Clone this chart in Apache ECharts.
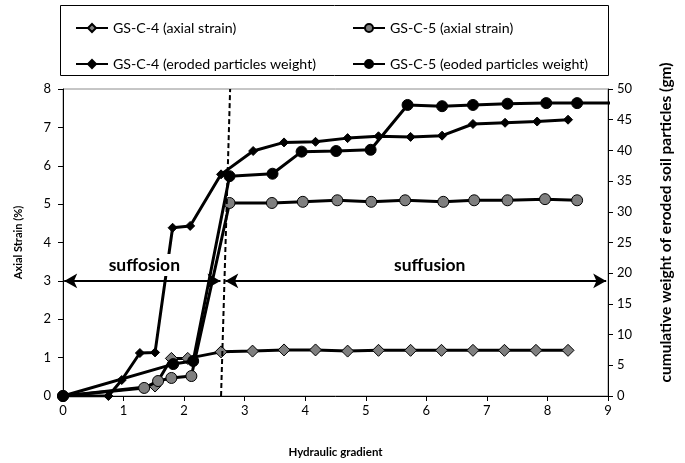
<!DOCTYPE html>
<html>
<head>
<meta charset="utf-8">
<script src="https://cdn.jsdelivr.net/npm/echarts@6/dist/echarts.min.js"></script>
<style>
  html, body { margin: 0; padding: 0; background: #fff; }
  #chart { width: 685px; height: 463px; }
</style>
</head>
<body>
<div id="chart"></div>
<script>
// hydraulic gradient (x) and readings for each test
const gradC4Axial = [0, 1.52, 1.79, 2.06, 2.61, 3.13, 3.65, 4.17, 4.70, 5.21, 5.74, 6.25, 6.77, 7.29, 7.81, 8.34];
const strainC4 = [0, 0.26, 0.98, 0.98, 1.15, 1.17, 1.20, 1.20, 1.17, 1.19, 1.19, 1.19, 1.19, 1.19, 1.19, 1.19];

const gradC5Axial = [0, 1.34, 1.57, 1.79, 2.12, 2.75, 3.45, 3.96, 4.53, 5.09, 5.65, 6.28, 6.79, 7.34, 7.96, 8.49];
const strainC5 = [0, 0.21, 0.39, 0.47, 0.52, 5.03, 5.03, 5.06, 5.10, 5.06, 5.10, 5.06, 5.10, 5.10, 5.13, 5.10];

const gradC4Eroded = [0, 0.75, 0.97, 1.27, 1.52, 1.81, 2.10, 2.61, 3.14, 3.65, 4.17, 4.70, 5.21, 5.74, 6.26, 6.77, 7.30, 7.83, 8.34];
const weightC4 = [0, 0, 2.6, 7.0, 7.1, 27.4, 27.7, 36.1, 39.9, 41.3, 41.4, 42.0, 42.3, 42.2, 42.4, 44.3, 44.5, 44.7, 45.0];

const gradC5Eroded = [0, 1.82, 2.15, 2.75, 3.46, 3.94, 4.51, 5.08, 5.69, 6.26, 6.77, 7.34, 7.98, 8.49, 9.3];
const weightC5 = [0, 5.2, 5.7, 35.8, 36.2, 39.8, 39.9, 40.1, 47.4, 47.2, 47.4, 47.6, 47.7, 47.7, 47.7];

// dashed boundary line (slightly slanted) and zone arrows at strain = 3
const boundaryX = [2.61, 2.76];
const boundaryY = [0, 8];
const arrowY = 3;

const names = [
  'GS-C-4 (axial strain)',
  'GS-C-5 (axial strain)',
  'GS-C-4 (eroded particles weight)',
  'GS-C-5 (eoded particles weight)'
];

const zip = (xs, ys) => xs.map((x, i) => [x, ys[i]]);
const font = 'Lato, "Open Sans", sans-serif';

const chart = echarts.init(document.getElementById('chart'));

const lineBase = {
  type: 'line',
  lineStyle: { color: '#000', width: 3 },
  emphasis: { disabled: true },
  animation: false
};

const legendText = { fontSize: 14.2, color: '#000', fontFamily: font };

chart.setOption({
  animation: false,
  textStyle: { fontFamily: font },
  grid: {
    left: 63, right: 77, top: 89, bottom: 66,
    show: true, borderColor: '#8c8c8c', borderWidth: 1
  },
  graphic: [{
    type: 'rect',
    shape: { x: 60.5, y: 5.5, width: 548, height: 70 },
    style: { fill: 'none', stroke: '#000', lineWidth: 1 },
    silent: true
  }],
  legend: [
    {
      left: 70, top: 16, orient: 'vertical', itemGap: 22,
      itemWidth: 32, itemHeight: 10,
      data: [names[0], names[2]],
      textStyle: legendText
    },
    {
      left: 347, top: 16, orient: 'vertical', itemGap: 22,
      itemWidth: 32, itemHeight: 10,
      data: [names[1], names[3]],
      textStyle: legendText
    }
  ],
  xAxis: {
    type: 'value', min: 0, max: 9, interval: 1,
    name: 'Hydraulic gradient', nameLocation: 'middle', nameGap: 50,
    nameTextStyle: { fontWeight: 'bold', fontSize: 11.5, color: '#000' },
    axisLine: { lineStyle: { color: '#000', width: 1 } },
    axisTick: { show: true, length: 5, lineStyle: { color: '#000' } },
    axisLabel: { color: '#000', fontSize: 13, margin: 8 },
    splitLine: { show: false }
  },
  yAxis: [
    {
      type: 'value', min: 0, max: 8, interval: 1,
      name: 'Axial Strain (%)', nameLocation: 'middle', nameGap: 39, nameRotate: 90,
      nameTextStyle: { fontWeight: 'bold', fontSize: 11, color: '#000' },
      axisLine: { show: true, lineStyle: { color: '#000', width: 1 } },
      axisTick: { show: true, length: 5, lineStyle: { color: '#000' } },
      axisLabel: { color: '#000', fontSize: 13, margin: 12 },
      splitLine: { show: false }
    },
    {
      type: 'value', min: 0, max: 50, interval: 5, position: 'right',
      name: 'cumulative weight of eroded soil particles (gm)', nameLocation: 'middle',
      nameGap: 50, nameRotate: 90,
      nameTextStyle: { fontWeight: 'bold', fontSize: 15.5, color: '#000', padding: [0, 0, 0, 40] },
      axisLine: { show: true, lineStyle: { color: '#000', width: 1 } },
      axisTick: { show: true, length: 5, lineStyle: { color: '#000' } },
      axisLabel: { color: '#000', fontSize: 13, margin: 9 },
      splitLine: { show: false }
    }
  ],
  series: [
    Object.assign({}, lineBase, {
      name: names[0], yAxisIndex: 0,
      data: zip(gradC4Axial, strainC4),
      symbol: 'diamond', symbolSize: 12,
      itemStyle: { color: '#7f7f7f', borderColor: '#000', borderWidth: 1 },
      z: 2
    }),
    Object.assign({}, lineBase, {
      name: names[1], yAxisIndex: 0,
      data: zip(gradC5Axial, strainC5),
      symbol: 'circle', symbolSize: 11,
      itemStyle: { color: '#7f7f7f', borderColor: '#000', borderWidth: 1 },
      z: 3
    }),
    Object.assign({}, lineBase, {
      name: names[2], yAxisIndex: 1,
      data: zip(gradC4Eroded, weightC4),
      symbol: 'diamond', symbolSize: 9,
      itemStyle: { color: '#000', borderColor: '#000', borderWidth: 1 },
      z: 4
    }),
    Object.assign({}, lineBase, {
      name: names[3], yAxisIndex: 1,
      data: zip(gradC5Eroded, weightC5),
      symbol: 'circle', symbolSize: 11,
      itemStyle: { color: '#000', borderColor: '#000', borderWidth: 1 },
      clip: true,
      z: 5
    }),
    {
      type: 'line', name: 'boundary', yAxisIndex: 0,
      data: zip(boundaryX, boundaryY),
      symbol: 'none',
      lineStyle: { color: '#000', width: 2, type: [5, 3] },
      z: 6,
      markLine: {
        silent: true,
        symbol: ['arrow', 'arrow'],
        symbolSize: [11, 13],
        lineStyle: { color: '#000', width: 2, type: 'solid' },
        label: {
          show: true, position: 'middle',
          fontSize: 17.5, fontWeight: 'bold', color: '#000', fontFamily: font,
          backgroundColor: '#fff'
        },
        data: [
          [
            { coord: [0.02, arrowY], label: { formatter: 'suffosion', padding: [2, 8, 2, 12] } },
            { coord: [2.6, arrowY] }
          ],
          [
            { coord: [2.68, arrowY], label: { formatter: 'suffusion', padding: [2, 8, 2, 36] } },
            { coord: [8.97, arrowY] }
          ]
        ]
      }
    }
  ]
});
</script>
</body>
</html>
